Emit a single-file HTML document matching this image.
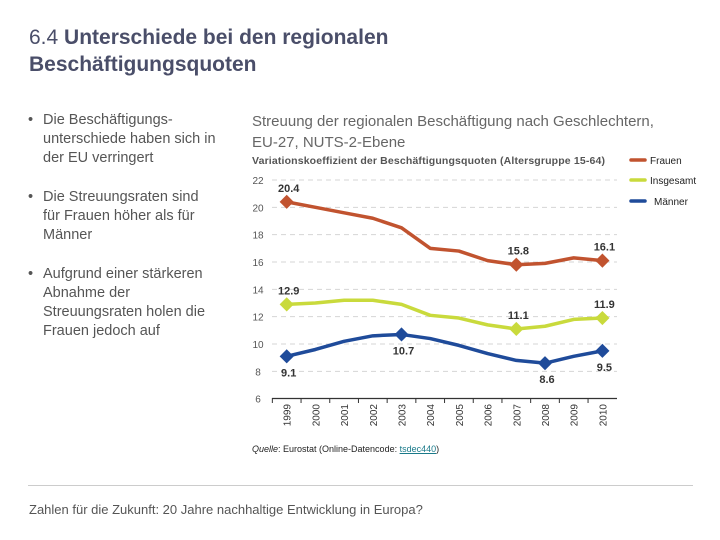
<!DOCTYPE html>
<html><head><meta charset="utf-8">
<style>
body{margin:0;width:720px;height:540px;background:#fff;font-family:"Liberation Sans",sans-serif;position:relative;overflow:hidden}
.t{position:absolute;color:#4a4e69;font-size:21px;line-height:27px;left:29px;top:24px}
.b{position:absolute;left:28px;color:#555;font-size:14.5px;line-height:19px}
.b span{position:absolute;left:0}
.b div{padding-left:15px}
</style></head><body>
<div class="t">6.4 <b>Unterschiede bei den regionalen<br>Beschäftigungsquoten</b></div>
<div class="b" style="top:111px"><span>•</span><div>Die Beschäftigungs-<br>unterschiede haben sich in<br>der EU verringert</div></div>
<div class="b" style="top:188px"><span>•</span><div>Die Streuungsraten sind<br>für Frauen höher als für<br>Männer</div></div>
<div class="b" style="top:265px"><span>•</span><div>Aufgrund einer stärkeren<br>Abnahme der<br>Streuungsraten holen die<br>Frauen jedoch auf</div></div>
<div style="position:absolute;left:252px;top:111px;color:#666;font-size:15px;line-height:21px">Streuung der regionalen Beschäftigung nach Geschlechtern,<br>EU-27, NUTS-2-Ebene</div>
<div style="position:absolute;left:252px;top:155px;color:#555;font-size:10.5px;font-weight:bold;letter-spacing:0.15px">Variationskoeffizient der Beschäftigungsquoten (Altersgruppe 15-64)</div>
<svg id="c" width="720" height="540" style="position:absolute;left:0;top:0"></svg>
<div style="position:absolute;left:252px;top:444px;font-size:9px;color:#222"><i>Quelle</i>: Eurostat (Online-Datencode: <span style="color:#1a7a8a;text-decoration:underline">tsdec440</span>)</div>
<div style="position:absolute;left:28px;top:485px;width:665px;border-top:1px solid #ccc"></div>
<div style="position:absolute;left:29px;top:502px;font-size:13px;color:#555">Zahlen für die Zukunft: 20 Jahre nachhaltige Entwicklung in Europa?</div>
<script>
const years=["1999","2000","2001","2002","2003","2004","2005","2006","2007","2008","2009","2010"];
const frauen=[20.4,20.0,19.6,19.2,18.5,17.0,16.8,16.1,15.8,15.9,16.3,16.1];
const insgesamt=[12.9,13.0,13.2,13.2,12.9,12.1,11.9,11.4,11.1,11.3,11.8,11.9];
const maenner=[9.1,9.6,10.2,10.6,10.7,10.4,9.9,9.3,8.8,8.6,9.1,9.5];
const yTicks=[6,8,10,12,14,16,18,20,22];
const frauenLabels=[[0,"20.4"],[8,"15.8"],[11,"16.1"]];
const insgLabels=[[0,"12.9"],[8,"11.1"],[11,"11.9"]];
const maenLabels=[[0,"9.1"],[4,"10.7"],[9,"8.6"],[11,"9.5"]];
const svg=document.getElementById('c');const NS='http://www.w3.org/2000/svg';
const X=i=>286.7+i*28.7, Y=v=>398.7-(v-6)*13.67;
function mk(t,a,p){const e=document.createElementNS(NS,t);for(const k in a)e.setAttribute(k,a[k]);(p||svg).appendChild(e);return e;}
yTicks.forEach(v=>{
 if(v>6){const g=mk('line',{x1:272,x2:617,y1:Y(v),y2:Y(v),stroke:'#d5d5d5','stroke-dasharray':'5,4'});
 }
 const t=mk('text',{x:258,y:Y(v)+4,'font-size':10,fill:'#555','text-anchor':'middle'});t.textContent=v;
 
});
const ax=mk('line',{x1:272,x2:617,y1:398.5,y2:398.5,stroke:'#333','stroke-width':1.2});

years.forEach((y,i)=>{
 const tk=mk('line',{x1:X(i)-14.35,x2:X(i)-14.35,y1:398,y2:403,stroke:'#333'});
 
 const t=mk('text',{x:0,y:0,'font-size':10,fill:'#333','text-anchor':'end',transform:`translate(${X(i)+4},404) rotate(-90)`});t.textContent=y;
 
});
function series(d,col,name,labels,below){
 const p=mk('polyline',{points:d.map((v,i)=>X(i)+','+Y(v)).join(' '),fill:'none',stroke:col,'stroke-width':3.5,'stroke-linejoin':'round'});
 
 labels.forEach(([i,s])=>{
  const m=mk('rect',{x:X(i)-5,y:Y(d[i])-5,width:10,height:10,fill:col,transform:`rotate(45 ${X(i)} ${Y(d[i])})`});
  
  const b=below.includes(i);
  const t=mk('text',{x:X(i)+2,y:b?Y(d[i])+20:Y(d[i])-10,'font-size':11,'font-weight':'bold',fill:'#333','text-anchor':'middle'});t.textContent=s;
  
 });
}
series(frauen,'#c1532f','frauen',frauenLabels,[]);
series(insgesamt,'#c9da3c','insgesamt',insgLabels,[]);
series(maenner,'#1f4b9a','maenner',maenLabels,[0,4,9,11]);
[['Frauen','#c1532f',160,650],['Insgesamt','#c9da3c',180,650],['Männer','#1f4b9a',201,654]].forEach(([n,c,y,tx])=>{
 const l=mk('line',{x1:631,x2:645,y1:y,y2:y,stroke:c,'stroke-width':3.5,'stroke-linecap':'round'});
 
 const t=mk('text',{x:tx,y:y+4,'font-size':10,fill:'#222'});t.textContent=n;
 
});
</script>
</body></html>
